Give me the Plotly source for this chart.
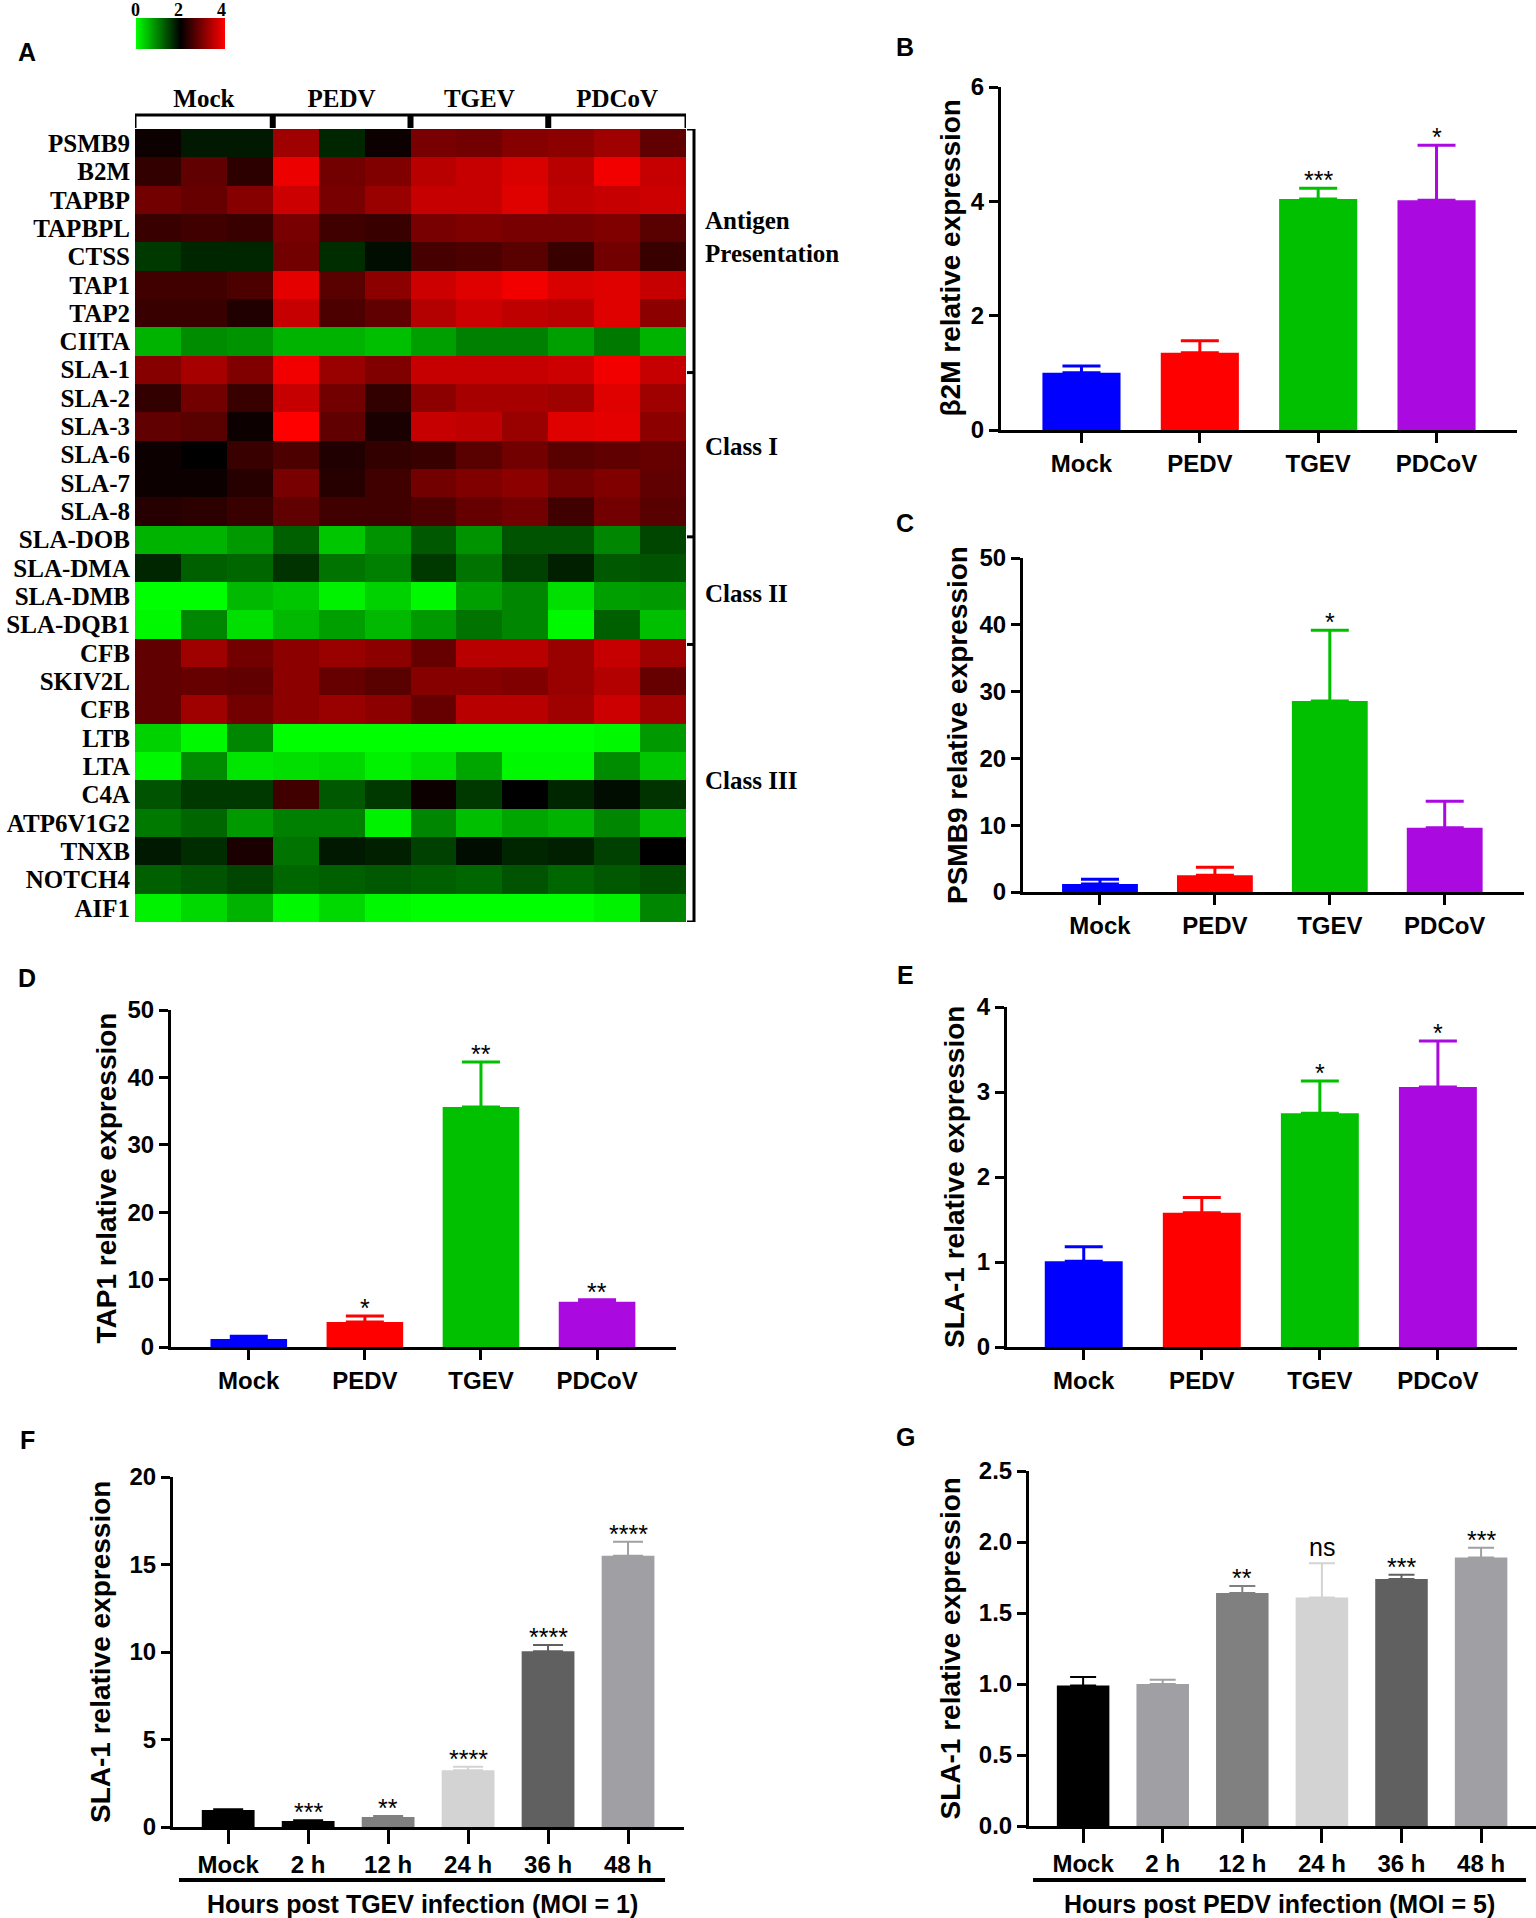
import plotly.graph_objects as go

# PANEL A : heatmap data (relative expression, 0-4)
genes = ["PSMB9", "B2M", "TAPBP", "TAPBPL", "CTSS", "TAP1", "TAP2", "CIITA",
         "SLA-1", "SLA-2", "SLA-3", "SLA-6", "SLA-7", "SLA-8",
         "SLA-DOB", "SLA-DMA", "SLA-DMB", "SLA-DQB1",
         "CFB", "SKIV2L", "CFB", "LTB", "LTA", "C4A", "ATP6V1G2", "TNXB", "NOTCH4", "AIF1"]
groups = ["Mock", "PEDV", "TGEV", "PDCoV"]
n_rep = 3
expr = [
    [2.1, 1.8, 1.8, 3.25, 1.7, 2.1, 2.95, 2.9, 3.05, 3.1, 3.25, 2.75],
    [2.4, 2.75, 2.35, 3.85, 2.9, 3.0, 3.45, 3.55, 3.7, 3.45, 3.9, 3.55],
    [2.9, 2.8, 3.05, 3.6, 2.95, 3.2, 3.55, 3.55, 3.75, 3.5, 3.55, 3.6],
    [2.45, 2.5, 2.45, 2.95, 2.5, 2.45, 2.95, 3.0, 2.95, 2.95, 3.0, 2.7],
    [1.55, 1.7, 1.7, 2.9, 1.65, 1.9, 2.55, 2.6, 2.7, 2.45, 2.9, 2.45],
    [2.5, 2.5, 2.6, 3.8, 2.7, 3.1, 3.6, 3.75, 3.9, 3.7, 3.75, 3.55],
    [2.45, 2.45, 2.25, 3.55, 2.6, 2.75, 3.4, 3.6, 3.5, 3.45, 3.75, 3.1],
    [0.6, 0.9, 0.85, 0.6, 0.6, 0.5, 0.75, 1.0, 1.0, 0.75, 1.05, 0.6],
    [3.05, 3.3, 3.0, 3.9, 3.2, 3.0, 3.55, 3.55, 3.55, 3.6, 3.9, 3.55],
    [2.4, 2.9, 2.45, 3.55, 2.9, 2.4, 3.1, 3.3, 3.3, 3.25, 3.75, 3.25],
    [2.75, 2.7, 2.1, 4.0, 2.75, 2.2, 3.55, 3.5, 3.2, 3.75, 3.8, 3.1],
    [2.1, 2.0, 2.45, 2.6, 2.25, 2.4, 2.45, 2.7, 2.9, 2.7, 2.75, 2.8],
    [2.1, 2.1, 2.3, 2.95, 2.3, 2.5, 2.9, 3.0, 3.1, 2.9, 3.0, 2.75],
    [2.3, 2.35, 2.45, 2.75, 2.5, 2.5, 2.6, 2.8, 2.9, 2.5, 2.9, 2.7],
    [0.6, 0.6, 0.8, 1.25, 0.45, 0.85, 1.3, 0.85, 1.35, 1.35, 0.95, 1.45],
    [1.7, 1.25, 1.2, 1.6, 1.1, 1.0, 1.55, 1.1, 1.5, 1.75, 1.3, 1.35],
    [0.0, 0.0, 0.55, 0.45, 0.1, 0.35, 0.05, 0.75, 0.95, 0.25, 0.75, 0.8],
    [0.05, 0.95, 0.25, 0.55, 0.75, 0.55, 0.8, 1.1, 0.95, 0.05, 1.25, 0.5],
    [2.75, 3.25, 2.9, 3.1, 3.2, 3.1, 2.8, 3.45, 3.45, 3.2, 3.55, 3.25],
    [2.75, 2.8, 2.75, 3.1, 2.8, 2.7, 3.05, 3.05, 3.0, 3.2, 3.4, 2.8],
    [2.75, 3.25, 2.9, 3.1, 3.2, 3.1, 2.8, 3.45, 3.45, 3.25, 3.6, 3.25],
    [0.35, 0.05, 0.95, 0.0, 0.0, 0.0, 0.0, 0.0, 0.0, 0.0, 0.05, 0.8],
    [0.05, 0.9, 0.2, 0.25, 0.3, 0.1, 0.25, 0.7, 0.05, 0.05, 0.9, 0.45],
    [1.35, 1.55, 1.55, 2.5, 1.3, 1.55, 2.1, 1.55, 2.0, 1.7, 1.9, 1.6],
    [1.05, 1.2, 0.8, 1.0, 1.0, 0.1, 0.95, 0.5, 0.7, 0.6, 0.95, 0.55],
    [1.8, 1.65, 2.2, 1.1, 1.8, 1.75, 1.5, 1.9, 1.7, 1.75, 1.5, 2.0],
    [1.25, 1.35, 1.45, 1.2, 1.25, 1.3, 1.25, 1.2, 1.35, 1.2, 1.3, 1.4],
    [0.1, 0.3, 0.6, 0.05, 0.3, 0.05, 0.0, 0.0, 0.0, 0.0, 0.1, 0.95],
]
cbar_ticks = ["0", "2", "4"]
gene_classes = ["Antigen<br>Presentation", "Class I", "Class II", "Class III"]

# PANELS B-E : qPCR, 4 groups
viruses = ["Mock", "PEDV", "TGEV", "PDCoV"]
virus_colors = ["#0000ff", "#ff0000", "#00c000", "#aa0ae0"]

b2m_mean = [1.0, 1.35, 4.04, 4.02]
b2m_sd = [0.12, 0.21, 0.19, 0.96]
b2m_sig = ["", "", "***", "*"]

psmb9_mean = [1.2, 2.5, 28.6, 9.6]
psmb9_sd = [0.7, 1.2, 10.6, 4.0]
psmb9_sig = ["", "", "*", ""]

tap1_mean = [1.2, 3.7, 35.6, 6.7]
tap1_sd = [0.4, 0.9, 6.7, 0.3]
tap1_sig = ["", "*", "**", "**"]

sla1_mean = [1.01, 1.58, 2.75, 3.06]
sla1_sd = [0.17, 0.18, 0.38, 0.54]
sla1_sig = ["", "", "*", "*"]

# PANELS F-G : time course
hours = ["Mock", "2 h", "12 h", "24 h", "36 h", "48 h"]

tgev_mean = [0.97, 0.34, 0.57, 3.25, 10.05, 15.5]
tgev_sd = [0.05, 0.04, 0.06, 0.2, 0.35, 0.8]
tgev_sig = ["", "***", "**", "****", "****", "****"]
tgev_colors = ["#000000", "#000000", "#808080", "#d3d3d3", "#606060", "#a0a0a4"]

pedv_mean = [0.99, 1.0, 1.64, 1.61, 1.74, 1.89]
pedv_sd = [0.06, 0.03, 0.05, 0.24, 0.03, 0.07]
pedv_sig = ["", "", "**", "ns", "***", "***"]
pedv_colors = ["#000000", "#a0a0a4", "#808080", "#d3d3d3", "#606060", "#a0a0a4"]

#  LAYOUT HELPERS (pixel -> paper)
W, H = 1536, 1918
SANS = "Liberation Sans, Arial, sans-serif"
SERIF = "Liberation Serif, Times New Roman, serif"


def fx(p):
    return p / W


def fy(p):
    return 1 - p / H


def text_at(x, y, text, font, **kw):
    d = dict(x=fx(x), y=fy(y), xref="paper", yref="paper", text=text, showarrow=False,
             xanchor="center", yanchor="middle", font=font)
    d.update(kw)
    return d


fig = go.Figure()
shapes = []
annotations = []

# ---- A: heatmap ----
ncol = len(groups) * n_rep
fig.add_trace(go.Heatmap(
    z=expr, x=list(range(ncol)), y=list(range(len(genes))),
    colorscale=[[0, "#00ff00"], [0.5, "#000000"], [1, "#ff0000"]],
    zmin=0, zmax=4, xaxis="x", yaxis="y",
    colorbar=dict(orientation="h", x=fx(180.5), xanchor="center", y=fy(18), yanchor="top",
                  thickness=31, thicknessmode="pixels", len=89, lenmode="pixels",
                  outlinewidth=0, showticklabels=False, ticks="", xpad=0, ypad=0),
))
heat_font = dict(family=SERIF, size=25, color="black", weight="bold")
fig.update_layout(
    xaxis=dict(domain=[fx(135), fx(686)], range=[-0.5, ncol - 0.5], side="top", anchor="y",
               tickvals=[i * n_rep + 1 for i in range(len(groups))], ticktext=groups,
               tickfont=heat_font, ticks="", ticklabelstandoff=16, automargin=False,
               showgrid=False, zeroline=False, showline=False),
    yaxis=dict(domain=[fy(922), fy(129)], range=[len(genes) - 0.5, -0.5], anchor="x",
               tickvals=list(range(len(genes))), ticktext=genes, automargin=False,
               tickfont=heat_font, ticks="", ticklabelstandoff=4,
               showgrid=False, zeroline=False, showline=False),
)
for x, t in zip([135, 178, 221], cbar_ticks):
    annotations.append(text_at(x, 10, t, dict(family=SERIF, size=18, weight="bold", color="black")))

# top bracket over groups
shapes.append(dict(type="line", xref="x", yref="paper", x0=-0.5, x1=ncol - 0.5,
                   y0=fy(115), y1=fy(115), line=dict(color="black", width=3)))
for g in range(len(groups) + 1):
    xb = g * n_rep - 0.5
    inner = 0 < g < len(groups)
    shapes.append(dict(type="line", xref="x", yref="paper", x0=xb, x1=xb,
                       y0=fy(114), y1=fy(128), line=dict(color="black", width=6 if inner else 3)))

# right bracket with class labels
shapes.append(dict(type="line", xref="paper", yref="y", x0=fx(694), x1=fx(694),
                   y0=-0.5, y1=len(genes) - 0.5, line=dict(color="black", width=3)))
for yb in [-0.5, 8.1, 13.9, 17.7, len(genes) - 0.5]:
    shapes.append(dict(type="line", xref="paper", yref="y", x0=fx(687), x1=fx(695),
                       y0=yb, y1=yb, line=dict(color="black", width=3)))
for lab, yc in zip(gene_classes, [3.3, 10.7, 15.9, 22.5]):
    annotations.append(dict(x=fx(703), y=yc, xref="paper", yref="y", text=lab, align="left",
                            xanchor="left", yanchor="middle", showarrow=False, font=heat_font))

letter_font = dict(family=SANS, size=25, weight="bold", color="black")
annotations.append(text_at(27, 52, "A", letter_font))


def bar_panel(n, cats, means, sds, sigs, colors, xdom, ydom, yr, dtick, xr, ytitle, title_x,
              letter, letter_xy, cap_w, err_th, xticklen, tickfmt=None):
    xa, ya = f"x{n}", f"y{n}"
    for c, m, s, sig, col in zip(cats, means, sds, sigs, colors):
        fig.add_trace(go.Bar(
            x=[c], y=[m], width=0.66, xaxis=xa, yaxis=ya, showlegend=False,
            marker=dict(color=col, line=dict(width=0)),
            error_y=dict(type="data", symmetric=False, array=[s], arrayminus=[0],
                         color=col, thickness=err_th, width=cap_w),
        ))
        if sig:
            annotations.append(dict(x=c, y=m + s, xref=xa, yref=ya, text=sig, showarrow=False,
                                    xanchor="center", yanchor="bottom",
                                    yshift=0 if sig == "ns" else -8,
                                    font=dict(family=SANS, size=25, color="black")))
    tickf = dict(family=SANS, size=24, color="black", weight="bold")
    fig.update_layout({
        f"xaxis{n}": dict(domain=[fx(xdom[0]), fx(xdom[1])], anchor=ya, type="category",
                          categoryarray=cats, range=xr, showline=True, linecolor="black",
                          linewidth=3, ticks="outside", ticklen=xticklen, tickwidth=3,
                          tickcolor="black", tickfont=tickf, showgrid=False, zeroline=False,
                          automargin=False),
        f"yaxis{n}": dict(domain=[fy(ydom[1]), fy(ydom[0])], anchor=xa, range=yr, dtick=dtick,
                          tick0=0, showline=True, linecolor="black", linewidth=3,
                          ticks="outside", ticklen=9, tickwidth=3, tickcolor="black",
                          tickfont=tickf, showgrid=False, zeroline=False, tickformat=tickfmt,
                          automargin=False),
    })
    annotations.append(text_at(title_x, (ydom[0] + ydom[1]) / 2, ytitle,
                               dict(family=SANS, size=28, weight="bold", color="black"),
                               textangle=-90))
    annotations.append(text_at(letter_xy[0], letter_xy[1], letter, letter_font))


bar_panel(2, viruses, b2m_mean, b2m_sd, b2m_sig, virus_colors, (1001, 1517), (87, 430), [0, 6], 2,
          [-0.68, 3.68], "β2M relative expression", 950, "B", (905, 47), 19, 3, 10)
bar_panel(3, viruses, psmb9_mean, psmb9_sd, psmb9_sig, virus_colors, (1023, 1524), (558, 892),
          [0, 50], 10, [-0.67, 3.69], "PSMB9 relative expression", 957, "C", (905, 523), 19, 3, 10)
bar_panel(4, viruses, tap1_mean, tap1_sd, tap1_sig, virus_colors, (171, 676), (1010, 1347),
          [0, 50], 10, [-0.67, 3.68], "TAP1 relative expression", 106, "D", (27, 978), 19, 3, 10)
bar_panel(5, viruses, sla1_mean, sla1_sd, sla1_sig, virus_colors, (1007, 1517), (1007, 1347),
          [0, 4], 1, [-0.65, 3.67], "SLA-1 relative expression", 954, "E", (905, 975), 19, 3, 10)
bar_panel(6, hours, tgev_mean, tgev_sd, tgev_sig, tgev_colors, (173, 684), (1477, 1827),
          [0, 20], 5, [-0.69, 5.7], "SLA-1 relative expression", 100, "F", (27, 1440), 15, 2, 14)
bar_panel(7, hours, pedv_mean, pedv_sd, pedv_sig, pedv_colors, (1029, 1536), (1471, 1826),
          [0, 2.5], 0.5, [-0.68, 5.69], "SLA-1 relative expression", 950, "G", (905, 1437), 13, 2, 14,
          tickfmt=".1f")

# underline + caption for time-course panels
for x0, x1, cap in [(179, 665, "Hours post TGEV infection (MOI = 1)"),
                    (1033, 1526, "Hours post PEDV infection (MOI = 5)")]:
    shapes.append(dict(type="line", xref="paper", yref="paper", x0=fx(x0), x1=fx(x1),
                       y0=fy(1880), y1=fy(1880), line=dict(color="black", width=4)))
    annotations.append(text_at((x0 + x1) / 2, 1904, cap,
                               dict(family=SANS, size=25, weight="bold", color="black")))

fig.update_layout(
    width=W, height=H, margin=dict(l=0, r=0, t=0, b=0, autoexpand=False),
    paper_bgcolor="white", plot_bgcolor="white",
    barmode="overlay", showlegend=False,
    shapes=shapes, annotations=annotations,
)

fig.write_html("out.html", config={"displayModeBar": False},
               post_script="document.body.style.margin='0';")
